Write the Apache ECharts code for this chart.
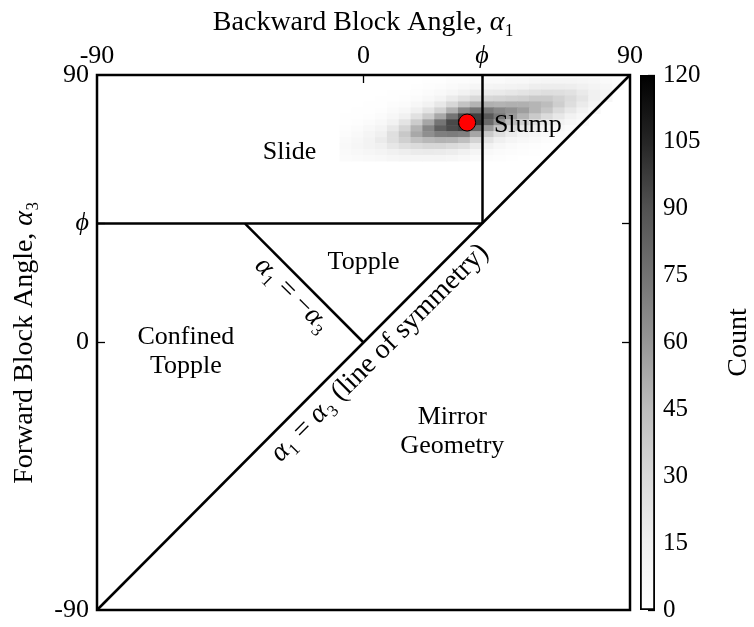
<!DOCTYPE html>
<html>
<head>
<meta charset="utf-8">
<script src="https://cdn.jsdelivr.net/npm/echarts@6/dist/echarts.min.js"></script>
<style>
  html, body { margin: 0; padding: 0; background: #fff; }
  #chart { width: 754px; height: 627px; }
</style>
</head>
<body>
<div id="chart"></div>
<script>
// friction angle phi, drawn as a labelled tick
var PHI = 40;
var tickLabels = [-90, 0, PHI, 90];
var innerTicks = [0, PHI];

// hexbin counts: rows are alpha3 bins, columns alpha1 bins
var binX = [-6, -2, 2, 6, 10, 14, 18, 22, 26, 30, 34, 38, 42, 46, 50, 54, 58, 62, 66, 70, 74, 78, 82, 86];
var binY = [88, 86, 84, 82, 80, 78, 76, 74, 72, 70, 68, 66, 64, 62];
var counts = [
  [0,0,0,0,0,0,0,1,1,3,3,4,5,5,7,7,9,10,10,10,9,8,5,3],
  [0,0,0,0,0,0,1,2,3,5,7,9,10,11,12,13,16,17,17,16,14,11,8,4],
  [0,0,0,0,1,1,2,4,6,9,13,17,18,19,21,23,25,27,26,24,19,14,9,0],
  [0,0,0,1,1,2,4,7,11,18,24,30,31,32,34,35,38,38,34,29,22,14,8,0],
  [0,0,1,1,3,4,8,13,20,31,42,49,50,49,50,50,48,45,36,27,18,11,0,0],
  [0,1,1,2,5,8,15,23,34,50,66,74,72,66,62,57,48,40,29,20,13,7,0,0],
  [1,1,2,4,8,14,25,37,53,74,94,96,87,73,59,49,38,29,20,13,8,0,0,0],
  [1,2,4,7,13,23,37,54,74,93,111,99,79,60,45,34,25,18,13,8,5,0,0,0],
  [2,4,7,11,20,32,49,67,84,92,96,79,58,42,30,21,16,11,7,4,0,0,0,0],
  [3,6,10,15,26,39,53,63,70,71,69,54,38,26,18,12,9,6,4,2,0,0,0,0],
  [5,8,12,18,26,35,43,47,49,48,44,33,23,15,10,7,5,3,2,0,0,0,0,0],
  [6,9,12,15,21,26,29,31,31,29,26,19,13,8,5,3,2,1,1,0,0,0,0,0],
  [5,7,9,11,14,16,18,19,18,17,14,10,6,4,3,2,1,0,0,0,0,0,0,0],
  [4,5,6,7,9,10,10,10,10,9,7,5,3,2,1,0,0,0,0,0,0,0,0,0]
];
var binW = 4, binH = 2;

// region boundaries
var boundaries = [
  [[PHI, 90], [PHI, PHI]],
  [[-90, PHI], [PHI, PHI]],
  [[-PHI, PHI], [0, 0]],
  [[-90, -90], [90, 90]]
];

// observed slope
var observed = [[35, 74]];

// region names
var regionNames = ['Slide', 'Slump', 'Topple', 'Confined\nTopple', 'Mirror\nGeometry'];
var regionPos = [[-25, 64], [55.5, 73], [0, 27], [-60, -3.2], [30, -30]];
var lineNames = ['{i|α}₁ = −{i|α}₃', '{i|α}₁ = {i|α}₃ (line of symmetry)'];
var linePos = [[-24, 16], [5.5, -3.5]];
var lineRot = [-45, 45];

var cbMax = 120, cbStep = 15;
var greys = ['#ffffff', '#f0f0f0', '#d9d9d9', '#bdbdbd', '#969696', '#737373', '#525252', '#252525', '#000000'];

var FONT = 'Liberation Serif';
var G = { left: 97, top: 75, width: 533, height: 535 };

var cells = [];
binY.forEach(function (y, r) {
  binX.forEach(function (x, c) {
    if (counts[r][c] > 0) cells.push([x, y, counts[r][c]]);
  });
});

var labelData = [];
regionNames.forEach(function (n, i) {
  labelData.push({ name: n, value: regionPos[i] });
});
lineNames.forEach(function (n, i) {
  labelData.push({ name: n, value: linePos[i], label: { rotate: lineRot[i], fontSize: 28 } });
});

var rich = {
  i: { fontStyle: 'italic', fontFamily: FONT, color: '#000' },
  p: { fontStyle: 'italic', fontFamily: FONT, fontSize: 26, color: '#000' }
};
function tickFmt(v) { return v === PHI ? '{p|ϕ}' : String(v); }
var tickStyle = { show: true, inside: true, length: 8, customValues: innerTicks, lineStyle: { color: '#000', width: 1.3 } };

var chart = echarts.init(document.getElementById('chart'));
chart.setOption({
  animation: false,
  backgroundColor: '#fff',
  textStyle: { fontFamily: FONT, color: '#000' },
  grid: [
    { left: G.left, top: G.top, width: G.width, height: G.height, show: true, borderColor: '#000', borderWidth: 2.5, backgroundColor: 'transparent' },
    { left: 640, top: G.top, width: 17, height: G.height }
  ],
  visualMap: {
    show: false, type: 'continuous', min: 0, max: cbMax, seriesIndex: 0, dimension: 2,
    inRange: { color: greys }
  },
  xAxis: [
    {
      gridIndex: 0, type: 'value', position: 'top', min: -90, max: 90,
      axisLine: { show: false, onZero: false }, splitLine: { show: false },
      axisTick: tickStyle,
      axisLabel: { customValues: tickLabels, fontSize: 26, color: '#000', fontFamily: FONT, margin: 6, formatter: tickFmt, rich: rich },
      name: 'Backward Block Angle, {i|α}₁', nameLocation: 'middle', nameGap: 38,
      nameTextStyle: { fontSize: 28, fontFamily: FONT, color: '#000', rich: rich }
    },
    { gridIndex: 1, type: 'category', data: ['c'], show: false }
  ],
  yAxis: [
    {
      gridIndex: 0, type: 'value', position: 'left', min: -90, max: 90,
      axisLine: { show: false, onZero: false }, splitLine: { show: false },
      axisTick: tickStyle,
      axisLabel: { customValues: tickLabels, fontSize: 26, color: '#000', fontFamily: FONT, margin: 8, formatter: tickFmt, rich: rich },
      name: 'Forward Block Angle, {i|α}₃', nameLocation: 'middle', nameGap: 58,
      nameTextStyle: { fontSize: 28, fontFamily: FONT, color: '#000', rich: rich }
    },
    {
      gridIndex: 0, type: 'value', position: 'right', min: -90, max: 90,
      axisLine: { show: false, onZero: false }, splitLine: { show: false }, axisLabel: { show: false },
      axisTick: tickStyle
    },
    {
      gridIndex: 1, type: 'value', position: 'right', min: 0, max: cbMax, interval: cbStep,
      axisLine: { show: false, onZero: false }, splitLine: { show: false },
      axisTick: { show: true, inside: true, length: 7, lineStyle: { color: '#000', width: 1.3 } },
      axisLabel: { fontSize: 25, color: '#000', fontFamily: FONT, margin: 8 },
      name: 'Count', nameLocation: 'middle', nameGap: 70,
      nameTextStyle: { fontSize: 28, fontFamily: FONT, color: '#000' }
    }
  ],
  series: [
    {
      type: 'scatter', xAxisIndex: 0, yAxisIndex: 0, data: cells, z: 1,
      symbol: 'rect',
      symbolSize: [G.width * binW / 180 + 0.6, G.height * binH / 180 + 0.6],
      itemStyle: { opacity: 1 }
    },
    {
      type: 'lines', coordinateSystem: 'cartesian2d', xAxisIndex: 0, yAxisIndex: 0, z: 3,
      data: boundaries.map(function (s) { return { coords: s }; }),
      lineStyle: { color: '#000', width: 2.5, opacity: 1, type: 'solid' }
    },
    {
      type: 'scatter', xAxisIndex: 0, yAxisIndex: 0, data: observed, z: 5,
      symbolSize: 17, itemStyle: { color: '#ff0000', borderColor: '#000', borderWidth: 1, opacity: 1 }
    },
    {
      type: 'scatter', xAxisIndex: 0, yAxisIndex: 0, data: labelData, z: 6,
      symbolSize: 1, itemStyle: { color: 'rgba(0,0,0,0)', opacity: 1 },
      label: {
        show: true, position: 'inside', formatter: '{b}', color: '#000', textBorderWidth: 0,
        fontSize: 26, fontFamily: FONT, lineHeight: 29, align: 'center', rich: rich
      }
    },
    {
      type: 'bar', xAxisIndex: 1, yAxisIndex: 2, data: [cbMax], barWidth: '100%',
      itemStyle: {
        borderColor: '#000', borderWidth: 1.8,
        color: {
          type: 'linear', x: 0, y: 1, x2: 0, y2: 0,
          colorStops: greys.map(function (c, i) { return { offset: i / (greys.length - 1), color: c }; })
        }
      }
    }
  ]
});
</script>
</body>
</html>
